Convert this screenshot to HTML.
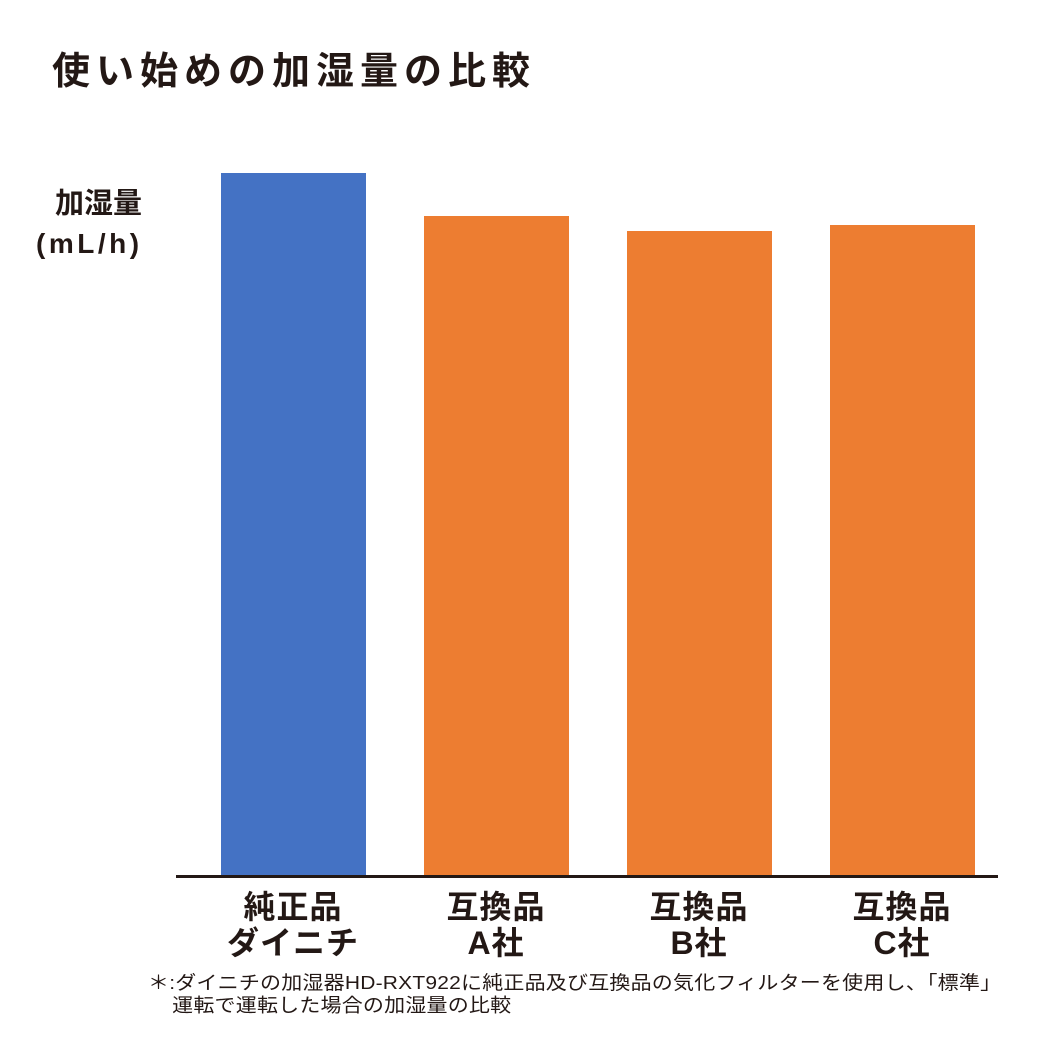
<!DOCTYPE html>
<html><head><meta charset="utf-8"><style>
body{margin:0;width:1043px;height:1042px;background:#fff;position:relative;overflow:hidden;font-family:"Liberation Sans","Noto Sans CJK JP",sans-serif;color:#231815}
.a{position:absolute;white-space:nowrap}
.bar{position:absolute;width:145px}
.xl{position:absolute;width:200px;text-align:center;font-weight:bold;font-size:32px;line-height:36px;top:889px;letter-spacing:1px}
</style></head><body>
<div class="a" style="left:52px;top:40px;font-size:38px;font-weight:bold;letter-spacing:6px">使い始めの加湿量の比較</div>
<div class="a" style="left:50px;top:184px;font-size:29px;font-weight:bold;line-height:40px;text-align:right;width:92px">加湿量</div>
<div class="a" style="left:36px;top:224px;font-size:28px;font-weight:bold;line-height:40px;letter-spacing:3.5px">(mL/h)</div>
<div class="bar" style="left:221px;top:173px;height:703px;background:#4472C4"></div>
<div class="bar" style="left:424px;top:216px;height:660px;background:#ED7D31"></div>
<div class="bar" style="left:627px;top:231px;height:645px;background:#ED7D31"></div>
<div class="bar" style="left:830px;top:225px;height:651px;background:#ED7D31"></div>
<div class="a" style="left:176px;top:875px;width:822px;height:3px;background:#231815"></div>
<div class="xl" style="left:193px">純正品<br>ダイニチ</div>
<div class="xl" style="left:396px">互換品<br>A社</div>
<div class="xl" style="left:599px">互換品<br>B社</div>
<div class="xl" style="left:802px">互換品<br>C社</div>
<div class="a" style="left:148px;top:972px;font-size:21px;line-height:25px;letter-spacing:0.2px;transform:scaleY(0.9);transform-origin:0 0">＊:ダイニチの加湿器HD-RXT922に純正品及び互換品の気化フィルターを使用し、「標準」<br>&nbsp;&nbsp;&nbsp;&nbsp;運転で運転した場合の加湿量の比較</div>
</body></html>
